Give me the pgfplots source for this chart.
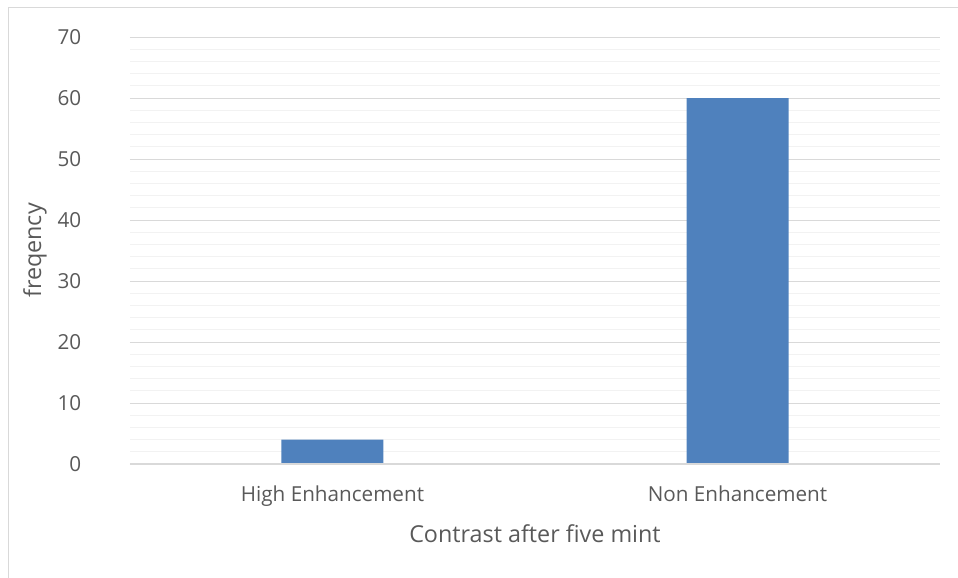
\documentclass[border=0pt]{standalone}
\usepackage{pgfplots}
\pgfplotsset{compat=1.18}
\usepackage{fontspec}
\setmainfont{Open Sans}
\definecolor{barblue}{HTML}{4F81BD}
\definecolor{txtgray}{HTML}{595959}
\definecolor{gridmajor}{HTML}{D9D9D9}
\definecolor{gridminor}{HTML}{F2F2F2}
\begin{document}
\begin{tikzpicture}
% canvas: 958 x 578 px at 0.75pt per px, origin at top-left
\path[use as bounding box] (0,0) rectangle (958*0.75pt,-578*0.75pt);
\draw[gridmajor, line width=0.9pt] (8.5*0.75pt,-578*0.75pt) -- (8.5*0.75pt,-7.5*0.75pt) -- (958*0.75pt,-7.5*0.75pt);
\begin{axis}[
  at={(130*0.75pt,-464*0.75pt)}, anchor=south west,
  scale only axis,
  width=810*0.75pt, height=427*0.75pt,
  xmin=-0.5, xmax=1.5, ymin=0, ymax=70,
  ybar, bar width=102*0.75pt,
  xtick={0,1}, xticklabels={High Enhancement, Non Enhancement},
  ytick={0,10,...,70},
  minor y tick num=4,
  ymajorgrids, yminorgrids,
  major grid style={gridmajor, line width=0.75pt},
  minor grid style={gridminor, line width=0.75pt},
  axis line style={draw=none},
  major tick length=0pt, minor tick length=0pt,
  tick style={draw=none},
  /pgf/number format/assume math mode=true,
  ticklabel style={font=\fontsize{15.5}{18}\selectfont, text=txtgray},
  yticklabel style={anchor=east, xshift=-33pt},
  xticklabel style={anchor=north, yshift=-13pt},
  xlabel={Contrast after five mint},
  ylabel={freqency},
  label style={font=\fontsize{17.5}{20}\selectfont, text=txtgray},
  xlabel style={at={(axis description cs:0.5,0)}, anchor=center, yshift=-70*0.75pt},
  ylabel style={at={(axis description cs:-0.1173,0.5)}, anchor=center},
]
\addplot[fill=barblue, draw=none] coordinates {(0,4) (1,60)};
\draw[gridmajor, line width=0.9pt] (axis cs:-0.5,0) -- (axis cs:1.5,0);
\end{axis}
\end{tikzpicture}
\end{document}
